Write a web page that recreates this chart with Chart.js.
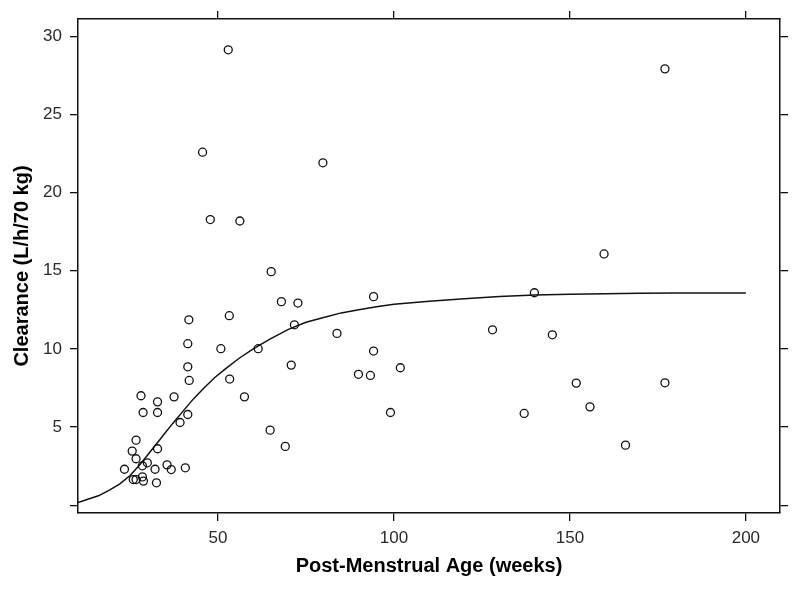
<!DOCTYPE html>
<html>
<head>
<meta charset="utf-8">
<script src="https://cdn.jsdelivr.net/npm/chart.js@4/dist/chart.umd.min.js"></script>
<style>
  html, body { margin: 0; padding: 0; background: #ffffff; }
  #wrap { width: 800px; height: 589px; }
</style>
</head>
<body>
<div id="wrap"><canvas id="c" width="800" height="589"></canvas></div>
<script>
// Observed data: post-menstrual age (weeks) and clearance (L/h/70 kg)
const obsAge = [
  41.7, 53.2, 41.4, 50.8, 41.4, 41.8, 53.3, 57.5, 28.1, 32.8,
  37.5, 28.7, 32.8, 41.4, 39.2, 26.7, 25.6, 32.8, 26.7, 29.9,
  28.5, 23.4, 32.1, 35.5, 36.7, 40.7, 25.9, 26.7, 28.5, 28.8,
  32.5, 52.9, 45.6, 79.8, 47.8, 56.2, 65.1, 68.0, 72.7, 94.2,
  71.7, 83.8, 61.4, 94.2, 70.8, 89.9, 93.3, 101.8, 99.0, 64.8,
  69.1, 177.0, 159.7, 139.9, 128.0, 145.0, 151.8, 155.7, 137.0, 177.0,
  165.8
];
const obsClearance = [
  11.86, 12.12, 10.33, 10.01, 8.85, 7.98, 8.07, 6.93, 7.00, 6.61,
  6.93, 5.93, 5.93, 5.80, 5.29, 4.16, 3.46, 3.61, 2.97, 2.71,
  2.52, 2.30, 2.30, 2.58, 2.28, 2.39, 1.64, 1.64, 1.81, 1.54,
  1.43, 29.13, 22.58, 21.90, 18.27, 18.18, 14.94, 13.02, 12.93, 13.34,
  11.54, 10.99, 10.01, 9.86, 8.96, 8.37, 8.30, 8.79, 5.93, 4.80,
  3.76, 27.91, 16.07, 13.59, 11.22, 10.90, 7.81, 6.29, 5.87, 7.83,
  3.84
];

// Fitted curve
const curveAge = [10.2, 13, 16, 19, 22, 25, 28, 31, 34, 37, 40, 43, 46, 49, 52, 56, 60, 65, 70, 75, 80, 85, 90, 95, 100, 110, 120, 130, 140, 150, 160, 170, 180, 190, 200];
const curveClearance = [0.17, 0.38, 0.6, 0.95, 1.35, 1.9, 2.65, 3.5, 4.35, 5.2, 6.0, 6.8, 7.5, 8.15, 8.7, 9.4, 10.0, 10.65, 11.25, 11.7, 12.0, 12.3, 12.5, 12.7, 12.85, 13.05, 13.2, 13.35, 13.45, 13.5, 13.53, 13.55, 13.57, 13.58, 13.58];

// Axis ticks
const xTicks = [50, 100, 150, 200];
const xTickLabels = ['50', '100', '150', '200'];
const yTicks = [0, 5, 10, 15, 20, 25, 30];
const yTickLabels = ['', '5', '10', '15', '20', '25', '30'];

const xTitle = 'Post-Menstrual Age (weeks)';
const yTitle = 'Clearance (L/h/70 kg)';

const X_MIN = 10.2, X_MAX = 209.7, Y_MIN = -0.5, Y_MAX = 31.1;

const points = obsAge.map((a, i) => ({ x: a, y: obsClearance[i] }));
const curve = curveAge.map((a, i) => ({ x: a, y: curveClearance[i] }));

const ink = '#111111';
const tickFont = { family: 'Liberation Sans, Arial, sans-serif', size: 17 };
const titleFont = { family: 'Liberation Sans, Arial, sans-serif', size: 20, weight: 'bold' };

function setTicks(values) {
  return function (scale) { scale.ticks = values.map(v => ({ value: v })); };
}
function labelFrom(values, labels) {
  return function (v) { const i = values.indexOf(v); return i >= 0 ? labels[i] : ''; };
}
const gridOpts = { drawOnChartArea: false, drawTicks: true, tickLength: 8, color: ink, lineWidth: 1.3 };
const borderOpts = { display: true, color: ink, width: 1.5 };

new Chart(document.getElementById('c'), {
  type: 'scatter',
  data: {
    datasets: [
      {
        label: 'Observed',
        data: points,
        pointStyle: 'circle',
        pointRadius: 4,
        pointBorderWidth: 1.3,
        pointBorderColor: ink,
        pointBackgroundColor: 'rgba(0,0,0,0)',
        showLine: false
      },
      {
        label: 'Fit',
        data: curve,
        showLine: true,
        pointRadius: 0,
        borderColor: ink,
        borderWidth: 1.5,
        tension: 0,
        fill: false
      }
    ]
  },
  options: {
    responsive: false,
    devicePixelRatio: 1,
    animation: false,
    layout: { padding: 0 },
    plugins: { legend: { display: false }, tooltip: { enabled: false } },
    scales: {
      x: {
        type: 'linear', position: 'bottom', min: X_MIN, max: X_MAX,
        afterBuildTicks: setTicks(xTicks),
        afterFit: s => { s.height = 76; },
        grid: gridOpts, border: borderOpts,
        ticks: { callback: labelFrom(xTicks, xTickLabels), color: '#2a2a2a', font: tickFont, padding: 7, maxRotation: 0, autoSkip: false },
        title: { display: true, text: xTitle, color: '#000', font: titleFont, padding: { top: 0, bottom: 11 } }
      },
      x2: {
        type: 'linear', position: 'top', min: X_MIN, max: X_MAX,
        afterBuildTicks: setTicks(xTicks),
        afterFit: s => { s.height = 19; },
        grid: gridOpts, border: borderOpts,
        ticks: { display: false }
      },
      y: {
        type: 'linear', position: 'left', min: Y_MIN, max: Y_MAX,
        afterBuildTicks: setTicks(yTicks),
        afterFit: s => { s.width = 78; },
        grid: gridOpts, border: borderOpts,
        ticks: { callback: labelFrom(yTicks, yTickLabels), color: '#2a2a2a', font: tickFont, padding: 8, autoSkip: false },
        title: { display: true, text: yTitle, color: '#000', font: titleFont, padding: { top: 10, bottom: 0 } }
      },
      y2: {
        type: 'linear', position: 'right', min: Y_MIN, max: Y_MAX,
        afterBuildTicks: setTicks(yTicks),
        afterFit: s => { s.width = 20; },
        grid: gridOpts, border: borderOpts,
        ticks: { display: false }
      }
    }
  }
});
</script>
</body>
</html>
